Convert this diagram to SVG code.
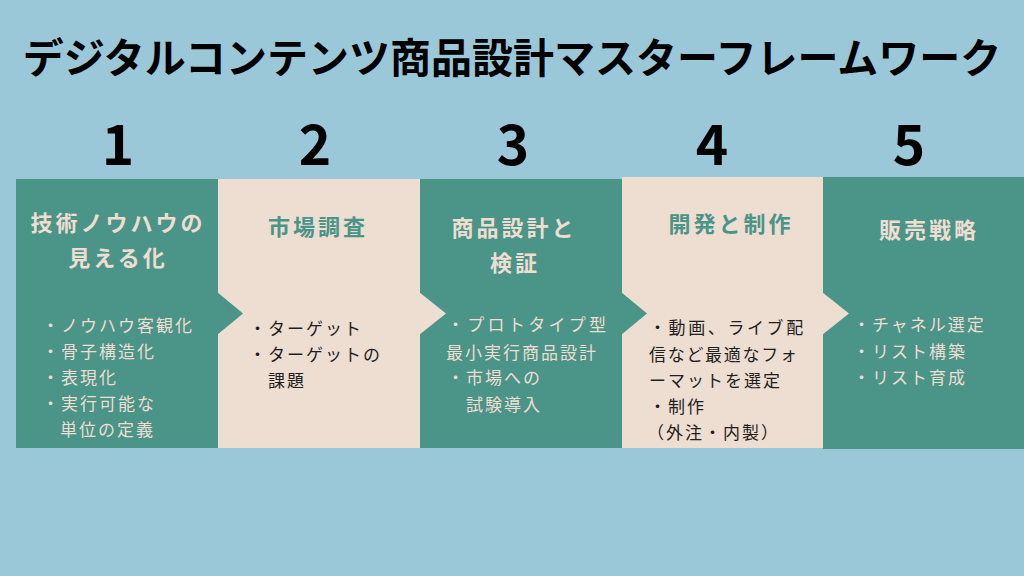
<svg xmlns="http://www.w3.org/2000/svg" width="1024" height="576" viewBox="0 0 1024 576">
  <style>
    .jp { font-family: "Noto Sans CJK JP", "Noto Sans", sans-serif; }
    .title { font-size: 41px; font-weight: 700; fill: #000000; }
    .num { font-size: 55px; font-weight: 700; fill: #000000; }
    .hd { font-size: 22px; font-weight: 700; letter-spacing: 3px; }
    .bd { font-size: 17px; font-weight: 400; letter-spacing: 2px; }
    .teal { fill: #4a9488; }
    .beige { fill: #eeddd1; }
    .onTeal { fill: #eeddd1; }
    .onBeigeHd { fill: #4a9488; }
    .onBeige { fill: #1f1f1f; }
  </style>
  <rect x="0" y="0" width="1024" height="576" fill="#9bc8d9"/>

  <text class="jp title" x="512" y="73" text-anchor="middle">デジタルコンテンツ商品設計マスターフレームワーク</text>

  <g id="numbers">
    <text class="jp num" x="118" y="165" text-anchor="middle">1</text>
    <text class="jp num" x="315" y="165" text-anchor="middle">2</text>
    <text class="jp num" x="513" y="165" text-anchor="middle">3</text>
    <text class="jp num" x="712" y="165" text-anchor="middle">4</text>
    <text class="jp num" x="909" y="165" text-anchor="middle">5</text>
  </g>

  <g id="step1">
    <rect class="teal" x="16" y="179" width="202" height="269"/>
    <text class="jp hd onTeal" x="118" y="231" text-anchor="middle">技術ノウハウの</text>
    <text class="jp hd onTeal" x="118" y="266" text-anchor="middle">見える化</text>
    <text class="jp bd onTeal" x="42" y="332">・ノウハウ客観化</text>
    <text class="jp bd onTeal" x="42" y="358">・骨子構造化</text>
    <text class="jp bd onTeal" x="42" y="384">・表現化</text>
    <text class="jp bd onTeal" x="42" y="410">・実行可能な</text>
    <text class="jp bd onTeal" x="60" y="436">単位の定義</text>
  </g>

  <g id="step2">
    <rect class="beige" x="218" y="179" width="202" height="269"/>
    <text class="jp hd onBeigeHd" x="318" y="235" text-anchor="middle">市場調査</text>
    <text class="jp bd onBeige" x="249" y="335">・ターゲット</text>
    <text class="jp bd onBeige" x="249" y="361">・ターゲットの</text>
    <text class="jp bd onBeige" x="268" y="387">課題</text>
  </g>

  <g id="step3">
    <rect class="teal" x="420" y="179" width="202" height="269"/>
    <text class="jp hd onTeal" x="514" y="236" text-anchor="middle">商品設計と</text>
    <text class="jp hd onTeal" x="515" y="271" text-anchor="middle">検証</text>
    <text class="jp bd onTeal" x="447" y="331" style="letter-spacing:3.3px">・プロトタイプ型</text>
    <text class="jp bd onTeal" x="446" y="359">最小実行商品設計</text>
    <text class="jp bd onTeal" x="447" y="384">・市場への</text>
    <text class="jp bd onTeal" x="466" y="411">試験導入</text>
  </g>

  <g id="step4">
    <rect class="beige" x="622" y="177" width="201" height="271"/>
    <text class="jp hd onBeigeHd" x="731" y="232" text-anchor="middle">開発と制作</text>
    <text class="jp bd onBeige" x="649" y="334" style="letter-spacing:2.6px">・動画、ライブ配</text>
    <text class="jp bd onBeige" x="649" y="361" style="letter-spacing:1.7px">信など最適なフォ</text>
    <text class="jp bd onBeige" x="649" y="387">ーマットを選定</text>
    <text class="jp bd onBeige" x="649" y="413">・制作</text>
    <text class="jp bd onBeige" x="647" y="439">（外注・内製）</text>
  </g>

  <g id="step5">
    <rect class="teal" x="823" y="177" width="201" height="272"/>
    <text class="jp hd onTeal" x="929" y="238" text-anchor="middle">販売戦略</text>
    <text class="jp bd onTeal" x="853" y="331">・チャネル選定</text>
    <text class="jp bd onTeal" x="853" y="358">・リスト構築</text>
    <text class="jp bd onTeal" x="853" y="384">・リスト育成</text>
  </g>

  <g id="connectors">
    <polygon class="teal" points="217,292 243,313.5 217,335"/>
    <polygon class="beige" points="419,292 446,313.5 419,335"/>
    <polygon class="teal" points="621,292 647,313.5 621,335"/>
    <polygon class="beige" points="822,292 849,313.5 822,335"/>
  </g>
</svg>
